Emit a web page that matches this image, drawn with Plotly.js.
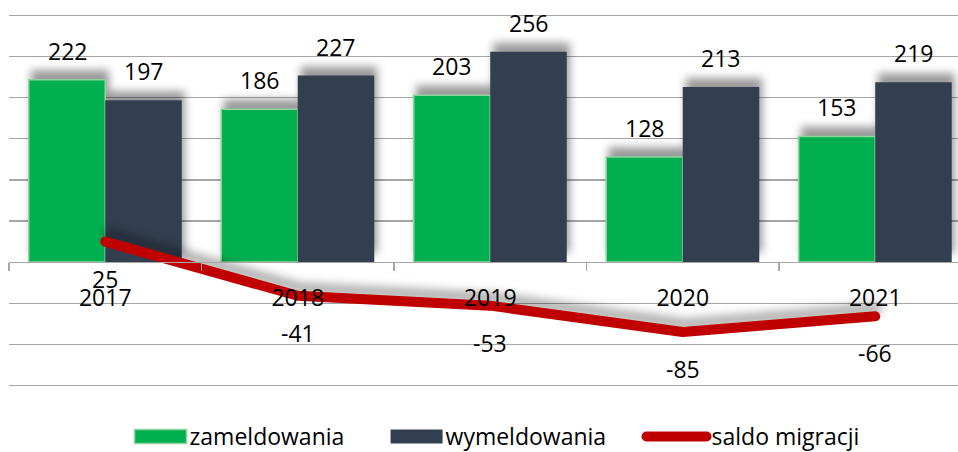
<!DOCTYPE html>
<html>
<head>
<meta charset="utf-8">
<script src="https://cdn.plot.ly/plotly-3.0.1.min.js"></script>
<style>
  html, body { margin: 0; padding: 0; background: #fff; }
  #chart { width: 958px; height: 452px; }
  g.barlayer { filter: drop-shadow(3px -9px 4px rgba(0,0,0,0.4)); }
  g.scatterlayer .js-line { stroke-linecap: round; stroke-linejoin: round; filter: drop-shadow(2px -8px 5px rgba(0,0,0,0.35)); }
  g.legend { translate: 0px 6px; }
  g.legend .legendlines path { stroke-linecap: round; }
  g.legend g.legendpoints path.legendundefined { d: path("M32,7H-20V-7H32Z"); }
</style>
</head>
<body>
<div id="chart"></div>
<script>
const years = ['2017', '2018', '2019', '2020', '2021'];
const zameldowania = [222, 186, 203, 128, 153];
const wymeldowania = [197, 227, 256, 213, 219];
const saldo = [25, -41, -53, -85, -66];
const seriesNames = ['zameldowania', 'wymeldowania', 'saldo migracji'];

const FONT = 'Open Sans, Lato, Liberation Sans, sans-serif';
const GREEN = '#00B050', NAVY = '#333F50', RED = '#C00000', GRID = '#a6a6a6';

const yMin = -152, yMax = 302;

const traces = [
  { type: 'bar', name: seriesNames[0], x: years, y: zameldowania, legendwidth: 181,
    marker: { color: GREEN, line: { color: '#8fd49c', width: 1.5 } }, hoverinfo: 'skip' },
  { type: 'bar', name: seriesNames[1], x: years, y: wymeldowania, legendwidth: 191,
    marker: { color: NAVY, line: { width: 0 } }, hoverinfo: 'skip' },
  { type: 'scatter', mode: 'lines', name: seriesNames[2], x: years, y: saldo, legendwidth: 190,
    line: { color: RED, width: 10 }, hoverinfo: 'skip' }
];

const annotations = [];
const halfBar = 38.25;
const labelFont = { family: FONT, size: 23, color: '#000' };
years.forEach((yr, i) => {
  // category axis: index i is the position of category years[i]
  annotations.push({ x: i, y: zameldowania[i], xref: 'x', yref: 'y', text: String(zameldowania[i]),
    showarrow: false, xshift: -halfBar, yanchor: 'bottom', yshift: 11, font: labelFont });
  annotations.push({ x: i, y: wymeldowania[i], xref: 'x', yref: 'y', text: String(wymeldowania[i]),
    showarrow: false, xshift: halfBar, yanchor: 'bottom', yshift: 11, font: labelFont });
  annotations.push({ x: i, y: saldo[i], xref: 'x', yref: 'y', text: String(saldo[i]),
    showarrow: false, yanchor: 'top', yshift: -19, font: labelFont });
});

const layout = {
  width: 958, height: 452,
  margin: { l: 9, r: 0, t: 14, b: 65, autoexpand: false },
  paper_bgcolor: '#fff', plot_bgcolor: '#fff',
  font: { family: FONT, size: 23, color: '#000' },
  barmode: 'group', bargap: 0.205, bargroupgap: 0,
  showlegend: true,
  legend: {
    orientation: 'h', xref: 'container', yref: 'container',
    x: 0.1248, xanchor: 'left', y: 0, yanchor: 'bottom',
    itemwidth: 60, entrywidthmode: 'pixels',
    font: { family: FONT, size: 23, color: '#000' },
    bgcolor: 'rgba(0,0,0,0)', traceorder: 'normal'
  },
  xaxis: {
    type: 'category', range: [-0.5, 4.43],
    anchor: 'free', position: (0 - yMin) / (yMax - yMin),
    showline: true, linecolor: GRID, linewidth: 1.2,
    ticks: 'outside', tickson: 'boundaries', ticklen: 8, tickcolor: GRID, tickwidth: 1.2,
    ticklabelstandoff: 15,
    showgrid: false, zeroline: false, fixedrange: true,
    tickfont: { family: FONT, size: 23, color: '#000' }, automargin: false
  },
  yaxis: {
    range: [yMin, yMax], dtick: 50, tick0: 0,
    showticklabels: false, showgrid: true, gridcolor: GRID, gridwidth: 1.2,
    zeroline: false, showline: false, ticks: '', fixedrange: true, automargin: false
  },
  annotations: annotations
};

Plotly.newPlot('chart', traces, layout, { displayModeBar: false, staticPlot: true });
</script>
</body>
</html>
